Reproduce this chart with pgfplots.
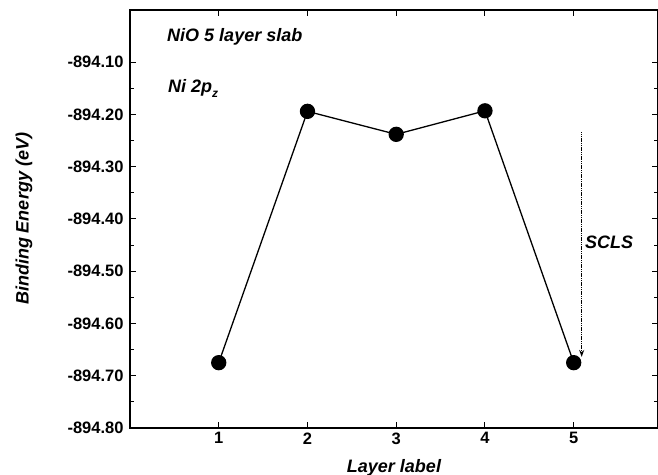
\documentclass[border=0pt]{standalone}
\usepackage{fontspec}
\setmainfont{Liberation Sans}
\usepackage{pgfplots}
\pgfplotsset{compat=1.18}
\usetikzlibrary{arrows.meta}
\begin{document}
\begin{tikzpicture}
\begin{axis}[
  scale only axis, width=528bp, height=418bp,
  xmin=0, xmax=5.95, ymin=-894.80, ymax=-894.00,
  xtick={1,2,3,4,5},
  ytick={-894.8,-894.7,-894.6,-894.5,-894.4,-894.3,-894.2,-894.1},
  yticklabels={-894.80,-894.70,-894.60,-894.50,-894.40,-894.30,-894.20,-894.10},
  scaled y ticks=false,
  minor y tick num=1,
  xtick pos=both, ytick pos=both,
  xticklabel pos=bottom, yticklabel pos=left,
  tick align=inside, major tick length=6bp, minor tick length=4bp,
  tick style={line width=1bp, black},
  /pgf/number format/assume math mode=true,
  ticklabel style={font=\fontsize{16.5bp}{18bp}\selectfont\bfseries},
  xticklabel style={yshift=-1bp},
  yticklabel style={xshift=-3bp},
  xlabel={Layer label},
  ylabel={Binding Energy (eV)},
  label style={font=\fontsize{18bp}{20bp}\selectfont\bfseries\itshape},
  xlabel style={at={(axis description cs:0.5,0)}, anchor=north, yshift=-28bp},
  ylabel style={at={(axis description cs:0,0.5)}, anchor=south, yshift=94bp},
  axis line style={line width=1.3bp},
]
\addplot[black, line width=1.3bp, mark=*, mark size=7bp, mark options={fill=black}]
  coordinates {(1,-894.675) (2,-894.194) (3,-894.238) (4,-894.193) (5,-894.675)};
\draw[black, dash pattern=on 1.2bp off 0.6bp, line width=1.3bp, -{Stealth[length=7bp,width=5bp]}]
  (axis cs:5.09,-894.234) -- (axis cs:5.09,-894.664);
\node[anchor=center, font=\fontsize{18bp}{20bp}\selectfont\bfseries\itshape]
  at (axis cs:5.40,-894.444) {SCLS};
\node[anchor=west, font=\fontsize{18bp}{20bp}\selectfont\bfseries\itshape]
  at (axis cs:0.38,-894.052) {NiO 5 layer slab};
\node[anchor=west, font=\fontsize{18bp}{20bp}\selectfont\bfseries\itshape]
  at (axis cs:0.39,-894.150) {Ni 2p\raisebox{-0.45ex}{\fontsize{12bp}{12bp}\selectfont z}};
\end{axis}
\pgfresetboundingbox
\path ([shift={(-130bp,-47bp)}]current axis.south west) rectangle ([shift={(0bp,10bp)}]current axis.north east);
\end{tikzpicture}
\end{document}
